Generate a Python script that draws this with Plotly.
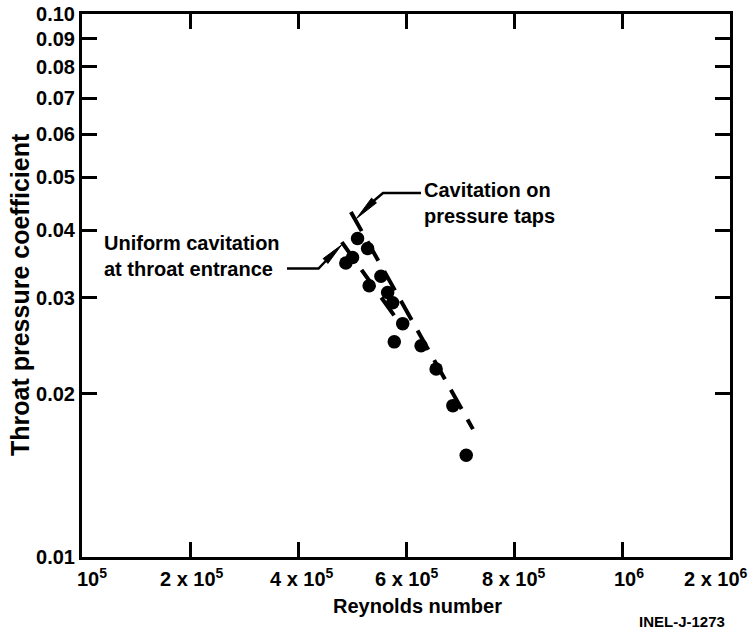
import plotly.graph_objects as go

# ---------------- data ----------------
reynolds = [510300, 528900, 501000, 488600, 553600, 531800, 566000,
            575300, 593900, 578300, 627900, 655800, 686800, 711500]
throat_cp = [0.0386, 0.0370, 0.0356, 0.0348, 0.0329, 0.0316, 0.0307,
             0.0294, 0.0269, 0.0249, 0.0245, 0.0222, 0.0190, 0.0154]

# dashed trend lines (endpoints)
taps_re = [497900, 724000]
taps_cp = [0.0432, 0.0172]
uniform_re = [481100, 595800]
uniform_cp = [0.0380, 0.0263]

x_tick_pos = [0, 200000, 400000, 600000, 800000, 1000000, 1200000]
x_tick_text = ["10<sup>5</sup>", "2 x 10<sup>5</sup>", "4 x 10<sup>5</sup>",
               "6 x 10<sup>5</sup>", "8 x 10<sup>5</sup>", "10<sup>6</sup>",
               "2 x 10<sup>6</sup>"]
y_tick_vals = [0.01, 0.02, 0.03, 0.04, 0.05, 0.06, 0.07, 0.08, 0.09, 0.10]
y_tick_text = ["0.01", "0.02", "0.03", "0.04", "0.05", "0.06", "0.07",
               "0.08", "0.09", "0.10"]

# ---------------- layout helpers ----------------
W, H = 755, 633
L, R, T, B = 82, 730, 14, 557
FONT = "Liberation Sans, Arial, Helvetica, sans-serif"
x_label_shift = [10, 2, 4, 1, 0, 7, -14]


def px(x, y):
    return (x - L) / (R - L), (B - y) / (B - T)


def path(points):
    s = ""
    for i, (x, y) in enumerate(points):
        xp, yp = px(x, y)
        s += ("M" if i == 0 else " L") + f" {xp:.5f},{yp:.5f}"
    return s


def arrowhead(tail, tip, half=3.4):
    dx, dy = tip[0] - tail[0], tip[1] - tail[1]
    ln = (dx * dx + dy * dy) ** 0.5
    nx, ny = -dy / ln * half, dx / ln * half
    pts = [tip, (tail[0] + nx, tail[1] + ny), (tail[0] - nx, tail[1] - ny)]
    return path(pts) + " Z"


fig = go.Figure()

fig.add_trace(go.Scatter(x=taps_re, y=taps_cp, mode="lines",
                         line=dict(color="black", width=4, dash="22px,12px"),
                         showlegend=False, hoverinfo="skip"))
fig.add_trace(go.Scatter(x=uniform_re, y=uniform_cp, mode="lines",
                         line=dict(color="black", width=4, dash="22px,12px"),
                         showlegend=False, hoverinfo="skip"))
fig.add_trace(go.Scatter(x=reynolds, y=throat_cp, mode="markers",
                         marker=dict(color="black", size=13.5),
                         showlegend=False))

tick_font = dict(family=FONT, size=20, color="black", weight="bold")

fig.update_xaxes(range=[0, 1200000], tickvals=x_tick_pos, showticklabels=False,
                 showgrid=False, zeroline=False, showline=True, linewidth=3,
                 linecolor="black", mirror="ticks", ticks="inside", ticklen=15,
                 tickwidth=2.5, tickcolor="black")
fig.update_yaxes(type="log", range=[-2, -1], tickvals=y_tick_vals,
                 ticktext=y_tick_text, showgrid=False, zeroline=False,
                 showline=True, linewidth=3, linecolor="black", mirror="ticks",
                 ticks="inside", ticklen=15, tickwidth=2.5, tickcolor="black",
                 tickfont=tick_font, ticklabelstandoff=0)

shapes = [
    dict(type="path", xref="paper", yref="paper",
         path=path([(421, 193), (383, 193), (372.7, 201.7)]),
         line=dict(color="black", width=2.5)),
    dict(type="path", xref="paper", yref="paper",
         path=arrowhead((374, 200.5), (356.5, 218.5)),
         fillcolor="black", line=dict(color="black", width=1)),
    dict(type="path", xref="paper", yref="paper",
         path=path([(287, 268.5), (318.5, 268.5), (326.7, 260)]),
         line=dict(color="black", width=2.5)),
    dict(type="path", xref="paper", yref="paper",
         path=arrowhead((325.5, 261), (341.5, 245)),
         fillcolor="black", line=dict(color="black", width=1)),
]

ann_font = dict(family=FONT, size=20, color="black")
annotations = []
for val, txt, sh in zip(x_tick_pos, x_tick_text, x_label_shift):
    annotations.append(dict(xref="x", yref="paper", x=val, y=px(0, 577)[1],
                            xanchor="center", yanchor="middle", xshift=sh,
                            showarrow=False, text="<b>" + txt + "</b>",
                            font=ann_font))
xp, yp = px(421.5, 203)
annotations.append(dict(xref="paper", yref="paper", x=xp, y=yp, xanchor="left",
                        yanchor="middle", align="left", showarrow=False,
                        text="<b>Cavitation on<br>pressure taps</b>", font=ann_font))
xp, yp = px(101.5, 256)
annotations.append(dict(xref="paper", yref="paper", x=xp, y=yp, xanchor="left",
                        yanchor="middle", align="left", showarrow=False,
                        text="<b>Uniform cavitation<br>at throat entrance</b>",
                        font=ann_font))
xp, yp = px(417, 606)
annotations.append(dict(xref="paper", yref="paper", x=xp, y=yp, xanchor="center",
                        yanchor="middle", showarrow=False,
                        text="<b>Reynolds number</b>", font=ann_font))
xp, yp = px(20, 295)
annotations.append(dict(xref="paper", yref="paper", x=xp, y=yp, xanchor="center",
                        yanchor="middle", showarrow=False, textangle=-90,
                        text="<b>Throat pressure coefficient</b>",
                        font=dict(family=FONT, size=25, color="black")))
xp, yp = px(727, 621)
annotations.append(dict(xref="paper", yref="paper", x=xp, y=yp, xanchor="right",
                        yanchor="middle", showarrow=False,
                        text="<b>INEL-J-1273</b>",
                        font=dict(family=FONT, size=15, color="black")))

fig.update_layout(width=W, height=H,
                  margin=dict(l=L, r=W - R, t=T, b=H - B, autoexpand=False),
                  paper_bgcolor="white", plot_bgcolor="white",
                  shapes=shapes, annotations=annotations,
                  font=dict(family=FONT, color="black"))

fig.write_html("out.html")
